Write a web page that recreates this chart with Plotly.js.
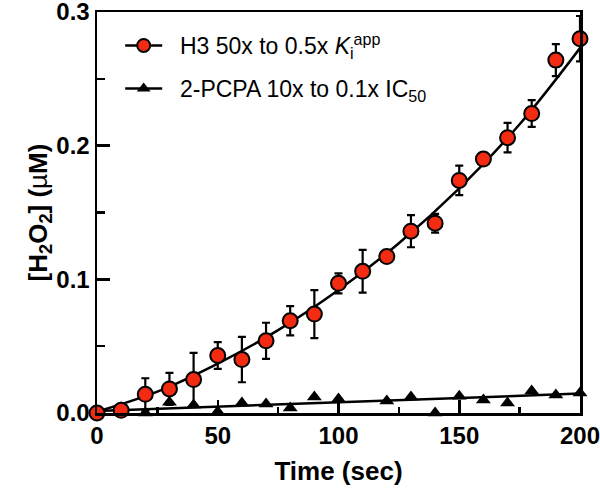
<!DOCTYPE html>
<html>
<head>
<meta charset="utf-8">
<script src="https://cdn.plot.ly/plotly-3.0.1.min.js"></script>
<style>html,body{margin:0;padding:0;background:#fff;}#chart{width:600px;height:488px;}</style>
</head>
<body>
<div id="chart"></div>
<script>
// Time points (sec)
var time = [0,10,20,30,40,50,60,70,80,90,100,110,120,130,140,150,160,170,180,190,200];
// H3 50x to 0.5x Ki app : mean and SD
var h3Values = [0.000,0.002,0.014,0.018,0.025,0.043,0.040,0.054,0.069,0.074,0.097,0.106,0.117,0.136,0.142,0.174,0.190,0.206,0.224,0.264,0.280];
var h3Errors = [0.000,0.000,0.012,0.012,0.020,0.010,0.017,0.0135,0.011,0.018,0.0075,0.016,0.002,0.012,0.007,0.011,0.003,0.011,0.010,0.012,0.017];
// 2-PCPA 10x to 0.1x IC50
var pcpaValues = [0.001,0.004,0.000,0.008,0.006,0.001,0.0075,0.0067,0.0037,0.012,0.0105,null,0.009,0.012,0.000,0.0125,0.0097,0.0074,0.0164,0.0134,0.0149];
// Fitted curves
var fitTime = [0,25,50,75,100,125,150,175,200];
var h3Fit = [0.001,0.016,0.037,0.062,0.092,0.127,0.168,0.216,0.273];
var pcpaFitTime = [0,200];
var pcpaFit = [0.0015,0.0145];
// Tick labels
var xTicks = [0,50,100,150,200];
var yTicks = [0,0.1,0.2,0.3];
var yTickText = ['0.0','0.1','0.2','0.3'];
var legendNames = ['\u00a0\u00a0H3 50x to 0.5x <i>K</i><sub>i</sub><sup>app</sup>', '\u00a0\u00a02-PCPA 10x to 0.1x IC<sub>50</sub>'];

var red = '#f22b12';
var FONT = 'Liberation Sans, Arial, sans-serif';

var traces = [
  {x: fitTime, y: h3Fit, mode: 'lines', line: {color: '#000', width: 2.5, shape: 'spline'}, showlegend: false, hoverinfo: 'skip'},
  {x: pcpaFitTime, y: pcpaFit, mode: 'lines', line: {color: '#000', width: 2.5}, showlegend: false, hoverinfo: 'skip'},
  {x: time, y: pcpaValues, mode: 'markers', showlegend: false, cliponaxis: false,
   marker: {symbol: 'triangle-up', size: 13, color: '#000'}},
  {x: time, y: h3Values, mode: 'markers', showlegend: false, cliponaxis: false,
   error_y: {type: 'data', array: h3Errors, visible: true, color: '#000', thickness: 2.2, width: 4},
   marker: {symbol: 'circle', size: 15, color: red, line: {color: '#000', width: 2}}},
  // legend entries
  {x: [null], y: [null], mode: 'lines+markers', name: legendNames[0], legendgroup: 'a',
   line: {color: '#000', width: 2.5}, marker: {symbol: 'circle', size: 13, color: red, line: {color: '#000', width: 2}}},
  {x: [null], y: [null], mode: 'lines+markers', name: legendNames[1], legendgroup: 'b',
   line: {color: '#000', width: 2.5}, marker: {symbol: 'triangle-up', size: 12, color: '#000'}}
];

var axisCommon = {
  showline: true, linecolor: '#000', linewidth: 2.5, mirror: true,
  showgrid: false, zeroline: false,
  ticks: 'inside', tickcolor: '#000', tickwidth: 2.5, ticklen: 13,
  ticklabeloverflow: 'allow',
  tickfont: {family: FONT, size: 24, color: '#000', weight: 'bold'}
};

var layout = {
  width: 600, height: 488,
  margin: {l: 97, r: 20, t: 12, b: 75},
  paper_bgcolor: '#fff', plot_bgcolor: '#fff',
  showlegend: true,
  legend: {x: 0.048, y: 0.97, xanchor: 'left', yanchor: 'top', bgcolor: 'rgba(0,0,0,0)',
           font: {family: FONT, size: 23, color: '#000'}, tracegroupgap: 10, itemwidth: 37},
  xaxis: Object.assign({}, axisCommon, {
    range: [0, 200], tickmode: 'array', tickvals: xTicks,
    minor: {dtick: 25, ticks: 'inside', ticklen: 6, tickwidth: 2.5, tickcolor: '#000'},
    title: {text: 'Time (sec)', font: {family: FONT, size: 26, color: '#000', weight: 'bold'}, standoff: 14}
  }),
  yaxis: Object.assign({}, axisCommon, {
    range: [0, 0.3], tickmode: 'array', tickvals: yTicks, ticktext: yTickText,
    minor: {dtick: 0.05, ticks: 'inside', ticklen: 8, tickwidth: 2.5, tickcolor: '#000'},
    title: {text: '[H<sub>2</sub>O<sub>2</sub>] (<span style="font-weight:normal">µ</span>M)', font: {family: FONT, size: 26, color: '#000', weight: 'bold'}, standoff: 0}
  })
};

Plotly.newPlot('chart', traces, layout, {staticPlot: true, displayModeBar: false});
</script>
</body>
</html>
